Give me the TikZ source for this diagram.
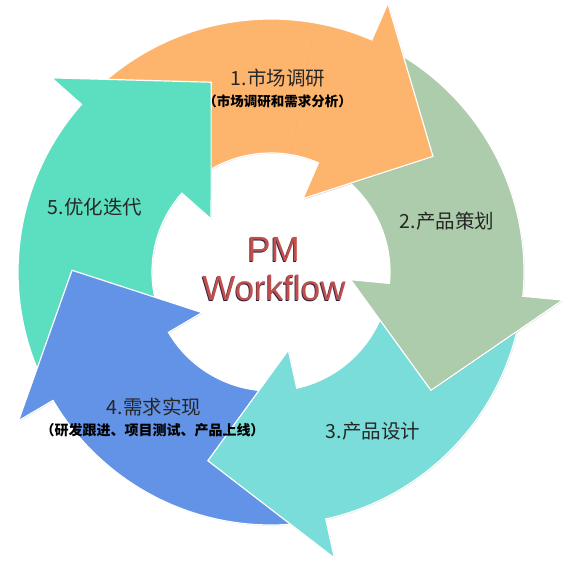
\documentclass[tikz,border=0pt]{standalone}
\usepackage{fontspec}
\setmainfont{Liberation Sans}
\newfontfamily\cjk{Noto Sans CJK SC}
\usetikzlibrary{calc,shadows}

\definecolor{cOrange}{RGB}{253,181,110}
\definecolor{cSage}{RGB}{172,204,171}
\definecolor{cCyan}{RGB}{122,221,218}
\definecolor{cBlue}{RGB}{99,147,230}
\definecolor{cTeal}{RGB}{92,223,192}
\definecolor{pmred}{RGB}{192,80,77}
\definecolor{pmdark}{RGB}{50,30,60}
\definecolor{labelgray}{RGB}{38,38,38}

\tikzset{
  arrowshape/.style={draw=white, line width=1.2pt, line join=miter,
    drop shadow={shadow xshift=0.8pt, shadow yshift=-0.8pt, opacity=0.25}},
  steplabel/.style={font=\cjk\fontsize{19.5}{22}\selectfont, text=labelgray, inner sep=0pt},
  sublabel/.style={font=\cjk\bfseries\fontsize{13.5}{15}\selectfont, text=black, inner sep=0pt},
  pmtext/.style={font=\fontsize{35}{40}\selectfont, inner sep=0pt, anchor=base},
}

% #1 colour, #2 tail angle, #3 head base angle, #4 tip angle
\newcommand\cyclearrow[4]{%
  \path[arrowshape, fill=#1] (C) ++(#2:253pt)
    arc[start angle=#2, end angle=#3, radius=253pt]
    -- ($(C)+(#3:293pt)$) -- ($(C)+(#4:199pt)$) -- ($(C)+(#3:80pt)$)
    -- ($(C)+(#3:119pt)$)
    arc[start angle=#3, end angle=#2, radius=119pt] -- cycle;
}

\begin{document}
\begin{tikzpicture}[x=1pt,y=1pt]
  \useasboundingbox (0,0) rectangle (565,560);
  \fill[white] (0,0) rectangle (565,560);
  \coordinate (C) at (271,288);

  \cyclearrow{cOrange}{134.5}{66.5}{35.5}
  \cyclearrow{cTeal}{206.5}{138.5}{107.5}
  \cyclearrow{cBlue}{278.5}{210.5}{179.5}
  \cyclearrow{cCyan}{-9.5}{-77.5}{-108.5}
  \cyclearrow{cSage}{62.5}{-5.5}{-36.5}
  \begin{scope}
    \clip (C) -- ++(80:330pt) arc[start angle=80, end angle=18, radius=330pt] -- cycle;
    \cyclearrow{cOrange}{134.5}{66.5}{35.5}
  \end{scope}

  \node[steplabel] (l1) at (278,482) {1.市场调研};
  \node[sublabel] (s1) at (277.5,459) {（市场调研和需求分析）};
  \node[steplabel] (l2) at (447,339) {2.产品策划};
  \node[steplabel] (l3) at (373,129) {3.产品设计};
  \node[steplabel] (l4) at (154,153) {4.需求实现};
  \node[sublabel, font=\cjk\bfseries\fontsize{14}{16}\selectfont] (s4) at (152.5,130) {（研发跟进、项目测试、产品上线）};
  \node[steplabel] (l5) at (95,353) {5.优化迭代};

  \node[pmtext, text=pmdark] (pmsh) at (272.8,297.4) {PM};
  \node[pmtext, text=pmred] (pm) at (273.5,298) {PM};
  \node[pmtext, text=pmdark] (wfsh) at (273.3,258.4) {Workflow};
  \node[pmtext, text=pmred] (wf) at (274,259) {Workflow};
\end{tikzpicture}
\end{document}
